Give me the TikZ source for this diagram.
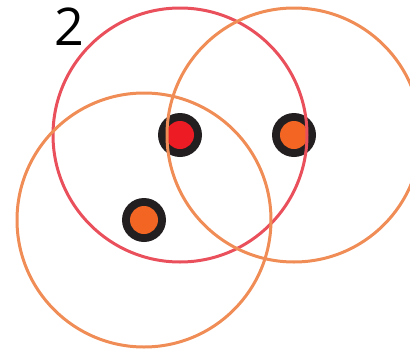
\documentclass[tikz,border=0pt]{standalone}
\usepackage{fontspec}
\setsansfont{Open Sans}
\definecolor{ringred}{HTML}{E9505C}
\definecolor{ringorange}{HTML}{F08C55}
\definecolor{dotred}{HTML}{ED1C24}
\definecolor{dotorange}{HTML}{F26522}
\definecolor{dotdark}{HTML}{231F20}
\tikzset{
  rangering/.style={line width=3pt},
}
\begin{document}
\begin{tikzpicture}[x=1pt,y=-1pt]
\useasboundingbox (0,0) rectangle (410,351);
\fill[dotdark] (180,135) circle (22);
\fill[dotred] (180,135) circle (14);
\fill[dotdark] (294,135) circle (22);
\fill[dotorange] (294,135) circle (14);
\fill[dotdark] (144,220) circle (22);
\fill[dotorange] (144,220) circle (14);
\draw[rangering, ringred] (180,135) circle (127);
\draw[rangering, ringorange] (294,135) circle (127);
\draw[rangering, ringorange] (144,220) circle (127);
\node[font=\sffamily\fontsize{52}{52}\selectfont, inner sep=0pt] (count) at (69,27) {2};
\end{tikzpicture}
\end{document}
